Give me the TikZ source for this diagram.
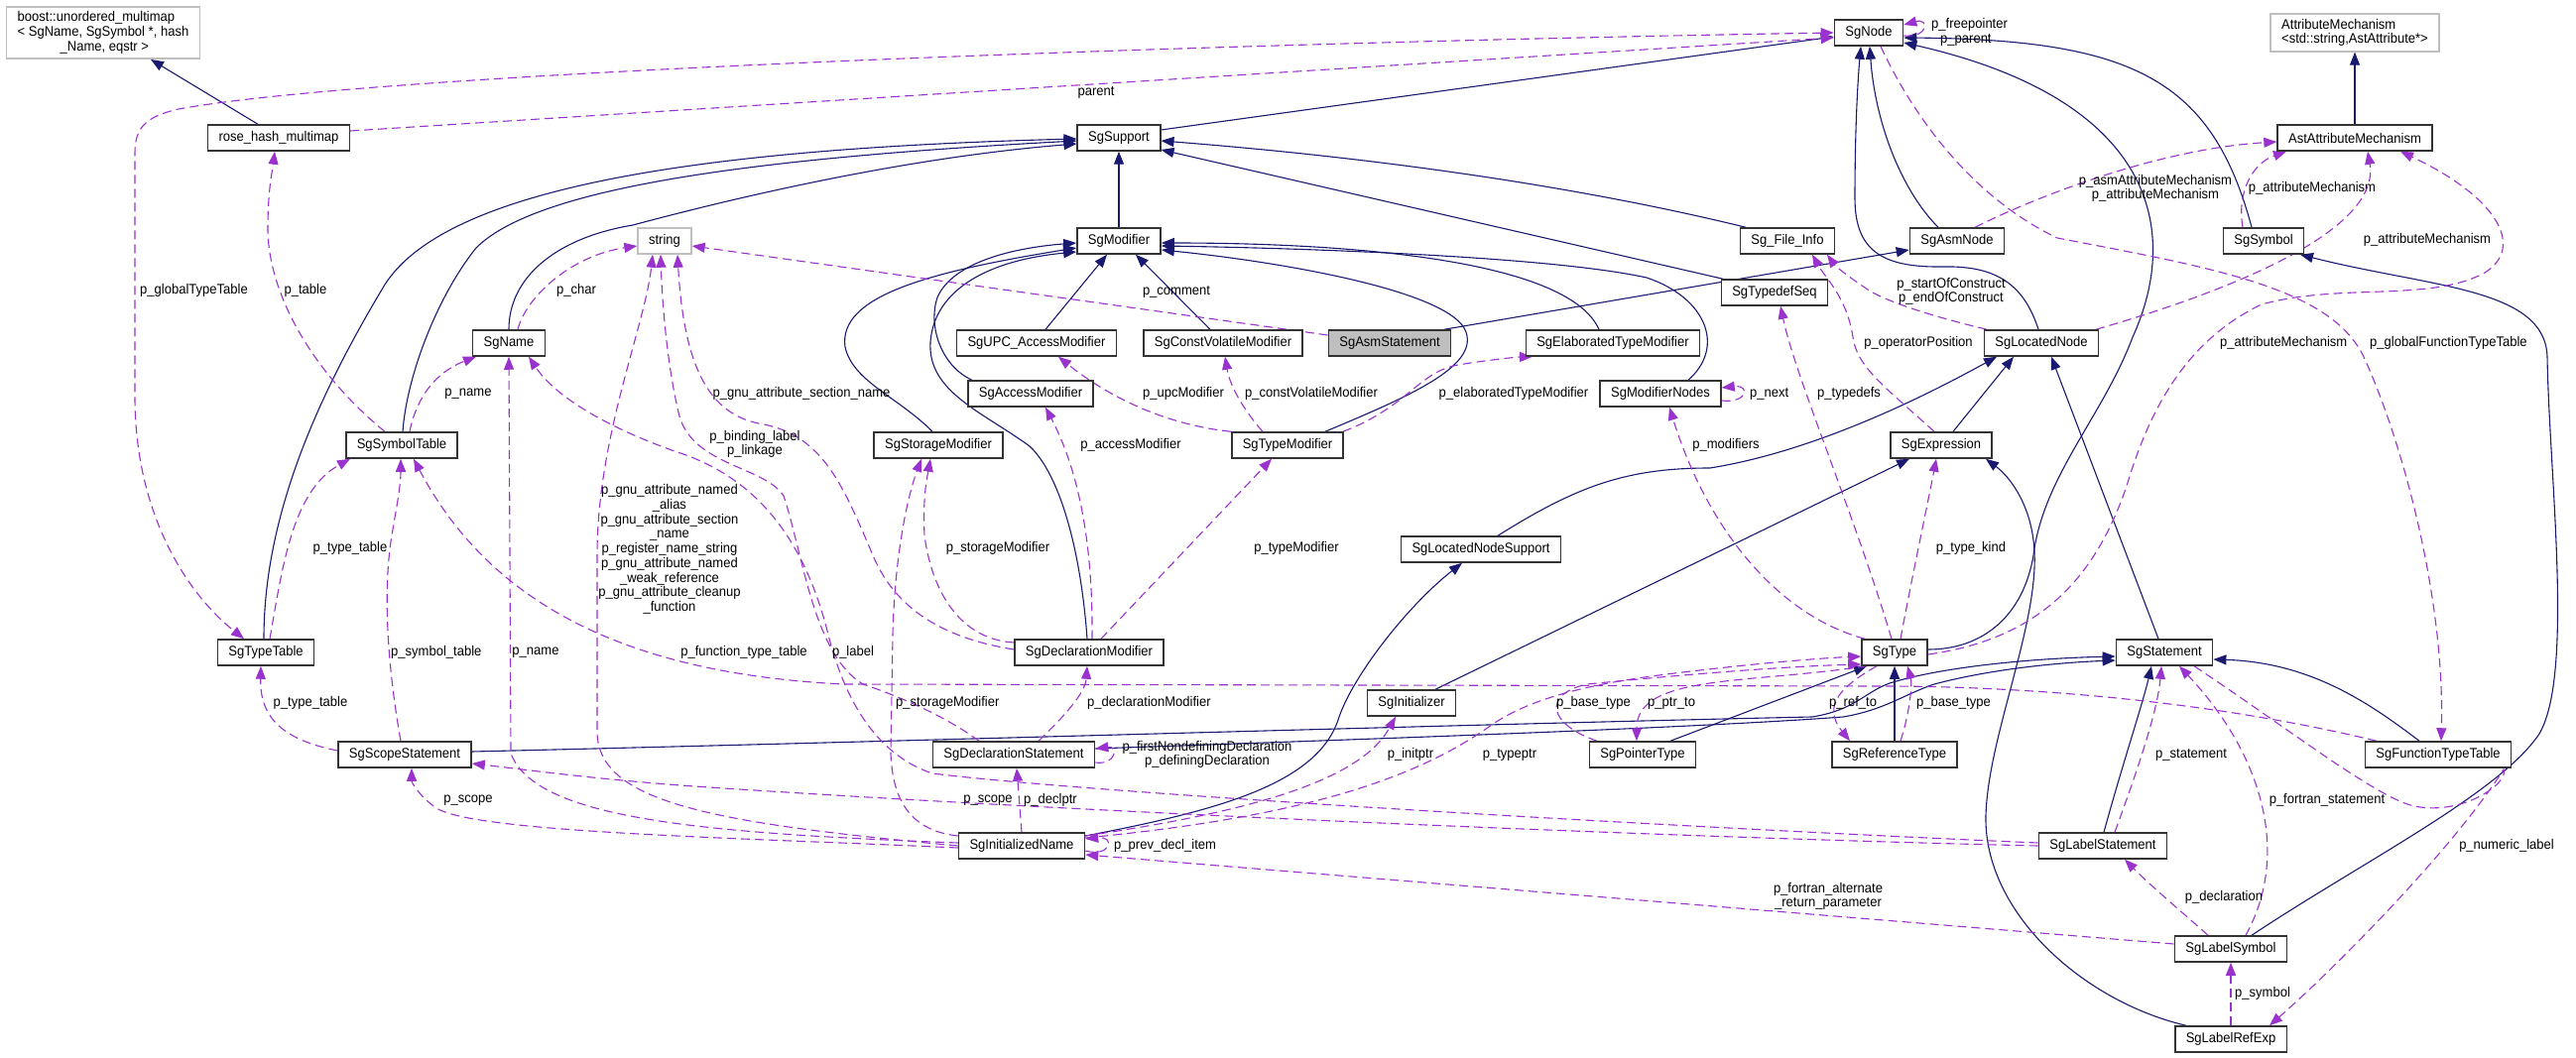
\documentclass[tikz,border=0pt]{standalone}
\usepackage{fontspec}
\setmainfont{Liberation Sans}[FakeStretch=0.93]
\usepackage{xcolor}
\usetikzlibrary{arrows.meta,backgrounds}
\definecolor{inhblue}{HTML}{191970}
\definecolor{usepurple}{HTML}{9A32CD}
\definecolor{extgray}{HTML}{BFBFBF}

\begin{document}
\begin{tikzpicture}[x=1pt, y=-1pt,
  every node/.style={font=\fontsize{14}{14.7}\selectfont},
  cls/.style={draw=black!80, line width=1.5pt, fill=white, minimum height=26pt, inner xsep=11pt, inner ysep=2pt},
  ext/.style={cls, draw=extgray},
  cur/.style={cls, fill=extgray},
  inh/.style={draw=inhblue, line width=1.1pt, -{Triangle[length=13pt,width=10pt]}},
  use/.style={draw=usepurple, line width=1.1pt, dash pattern=on 9pt off 5pt, -{Triangle[length=13pt,width=10pt]}},
  lab/.style={inner sep=0pt}]
\useasboundingbox (0,0) rectangle (2597,1067);

% classes
\node[ext, align=left, inner ysep=5pt] (boost) at (104,33) {boost::unordered\_multimap\\< SgName, SgSymbol *, hash\\\hspace*{43pt}\_Name, eqstr >};
\node[cls] (rose) at (281,139) {rose\_hash\_multimap};
\node[ext] (string) at (670,243) {string};
\node[cls] (name) at (513,346) {SgName};
\node[cls] (support) at (1128,139) {SgSupport};
\node[cls] (modifier) at (1128,243) {SgModifier};
\node[cls] (upc) at (1045,346) {SgUPC\_AccessModifier};
\node[cls] (cvm) at (1233,346) {SgConstVolatileModifier};
\node[cls] (sgnode) at (1884,33) {SgNode};
\node[cls] (fileinfo) at (1802,243) {Sg\_File\_Info};
\node[cls] (asmnode) at (1973,243) {SgAsmNode};
\node[cls] (typedefseq) at (1789,295) {SgTypedefSeq};
\node[cur] (asmstmt) at (1401,346) {SgAsmStatement};
\node[cls] (elabtm) at (1626,346) {SgElaboratedTypeModifier};
\node[ext, align=left, inner ysep=5pt] (attrmech) at (2374,33) {AttributeMechanism\\<std::string,AstAttribute*>};
\node[cls] (astattr) at (2374,139) {AstAttributeMechanism};
\node[cls] (sgsymbol) at (2282,243) {SgSymbol};
\node[cls] (locatednode) at (2058,346) {SgLocatedNode};
\node[cls] (symboltable) at (405,449) {SgSymbolTable};
\node[cls] (typetable) at (268,658) {SgTypeTable};
\node[cls] (accessmod) at (1039,397) {SgAccessModifier};
\node[cls] (storagemod) at (946,449) {SgStorageModifier};
\node[cls] (typemod) at (1298,449) {SgTypeModifier};
\node[cls] (declmod) at (1098,658) {SgDeclarationModifier};
\node[cls] (modnodes) at (1674,397) {SgModifierNodes};
\node[cls] (expression) at (1957,449) {SgExpression};
\node[cls] (lnsupport) at (1493,554) {SgLocatedNodeSupport};
\node[cls] (sgtype) at (1910,658) {SgType};
\node[cls] (statement) at (2182,658) {SgStatement};
\node[cls] (scopestmt) at (408,761) {SgScopeStatement};
\node[cls] (declstmt) at (1022,761) {SgDeclarationStatement};
\node[cls] (initname) at (1030,853) {SgInitializedName};
\node[cls] (initializer) at (1423,709) {SgInitializer};
\node[cls] (pointertype) at (1656,761) {SgPointerType};
\node[cls] (reftype) at (1910,761) {SgReferenceType};
\node[cls] (functt) at (2458,761) {SgFunctionTypeTable};
\node[cls] (labelstmt) at (2120,853) {SgLabelStatement};
\node[cls] (labelsym) at (2249,957) {SgLabelSymbol};
\node[cls] (labelrefexp) at (2249,1048) {SgLabelRefExp};

\begin{scope}[on background layer]
\fill[white] (0,0) rectangle (2597,1067);

% inheritance
\draw[inh] ([xshift=-21pt]rose.north) -- ([xshift=48pt]boost.south);
\draw[inh] ([yshift=8pt]support.east) -- ([yshift=-4pt]sgnode.west);
\draw[inh] (modifier) -- (support);
\draw[inh] ([xshift=-2pt]typetable.north) .. controls (266,520) and (320,400) .. (388,287) .. controls (450,190) and (700,150) .. ([yshift=-1pt]support.west);
\draw[inh] ([xshift=1pt]symboltable.north) .. controls (410,380) and (440,300) .. (480,250) .. controls (540,190) and (750,160) .. ([yshift=-3pt]support.west);
\draw[inh] (name.north) .. controls (513,280) and (560,240) .. (638,227) .. controls (720,205) and (900,160) .. ([yshift=-6pt]support.west);
\draw[inh] ([xshift=-42pt]fileinfo.north) .. controls (1600,190) and (1400,160) .. ([yshift=-3pt]support.east);
\draw[inh] ([xshift=-52pt]typedefseq.north) -- ([yshift=-12pt]support.east);
\draw[inh] ([xshift=9pt]upc.north) -- ([xshift=-12pt]modifier.south);
\draw[inh] ([xshift=-13pt]cvm.north) -- ([xshift=17pt]modifier.south);
\draw[inh] ([xshift=-59pt]accessmod.north) .. controls (950,370) and (935,330) .. (945,300) .. controls (960,265) and (1020,250) .. ([yshift=-2pt]modifier.west);
\draw[inh] ([xshift=-6pt]storagemod.north) .. controls (905,400) and (860,385) .. (852,350) .. controls (845,300) and (930,275) .. ([yshift=-7pt]modifier.west);
\draw[inh] ([xshift=-2pt]declmod.north) .. controls (1090,560) and (1070,480) .. (1038,450) .. controls (990,415) and (935,395) .. (938,345) .. controls (942,290) and (1000,262) .. ([yshift=-11pt]modifier.west);
\draw[inh] ([xshift=-14pt]elabtm.north) .. controls (1580,260) and (1350,245) .. ([yshift=-2pt]modifier.east);
\draw[inh] ([xshift=28pt]modnodes.north) .. controls (1740,350) and (1720,300) .. (1660,280) .. controls (1560,258) and (1300,250) .. ([yshift=-5pt]modifier.east);
\draw[inh] ([xshift=38pt]typemod.north) .. controls (1420,400) and (1490,370) .. (1478,335) .. controls (1465,295) and (1300,265) .. ([yshift=-9pt]modifier.east);
\draw[inh] ([xshift=-19pt]asmnode.north) .. controls (1915,190) and (1890,120) .. ([xshift=1pt]sgnode.south);
\draw[inh] ([xshift=-3pt]locatednode.north) .. controls (2040,285) and (2010,268) .. (1960,269) .. controls (1900,270) and (1870,255) .. (1870,200) .. controls (1870,130) and (1873,80) .. ([xshift=-8pt]sgnode.south);
\draw[inh] ([xshift=-12pt]sgsymbol.north) .. controls (2230,80) and (2150,40) .. ([yshift=-5pt]sgnode.east);
\draw[inh] ([yshift=3pt]sgtype.east) .. controls (2000,655) and (2040,620) .. (2050,560) .. controls (2060,480) and (2120,420) .. (2150,340) .. controls (2200,230) and (2170,100) .. ([yshift=-10pt]sgnode.east);
\draw[inh] (astattr) -- (attrmech);
\draw[inh] ([xshift=55pt]asmstmt.north) -- ([yshift=-9pt]asmnode.west);
\draw[inh] ([xshift=12pt]expression.north) -- ([xshift=-28pt]locatednode.south);
\draw[inh] ([xshift=17pt]lnsupport.north) .. controls (1590,490) and (1640,472) .. (1724,472) .. controls (1830,455) and (1940,400) .. ([xshift=-45pt]locatednode.south);
\draw[inh] ([xshift=-6pt]statement.north) -- ([xshift=10pt]locatednode.south);
\draw[inh] ([xshift=24pt]initializer.north) -- ([xshift=-32pt]expression.south);
\draw[inh] ([xshift=-45pt]labelrefexp.north) .. controls (2100,1010) and (2000,920) .. (2002,823) .. controls (2004,740) and (2060,620) .. (2050,545) .. controls (2045,505) and (2025,480) .. ([xshift=45pt]expression.south);
\draw[inh] ([xshift=21pt]labelsym.north) .. controls (2380,870) and (2520,800) .. (2560,740) .. controls (2595,680) and (2570,480) .. (2568,360) .. controls (2566,290) and (2450,290) .. ([xshift=37pt]sgsymbol.south);
\draw[inh] ([xshift=28pt]pointertype.north) -- ([xshift=-28pt]sgtype.south);
\draw[inh] (reftype) -- (sgtype);
\draw[inh] ([yshift=3pt]scopestmt.east) .. controls (900,748) and (1500,730) .. (1827,723) .. controls (1870,716) and (1880,698) .. (1905,689) .. controls (1960,672) and (2050,664) .. ([yshift=-4pt]statement.west);
\draw[inh] ([yshift=6pt]declstmt.east) .. controls (1300,748) and (1700,735) .. (1858,723) .. controls (1900,716) and (1920,700) .. (1950,690) .. controls (2010,674) and (2080,668) .. ([yshift=-8pt]statement.west);
\draw[inh] ([xshift=-19pt]functt.north) .. controls (2390,710) and (2330,668) .. ([yshift=-7pt]statement.east);
\draw[inh] ([xshift=1pt]labelstmt.north) .. controls (2140,770) and (2160,710) .. ([xshift=-13pt]statement.south);
\draw[inh] ([yshift=10pt]initname.east) .. controls (1230,817) and (1330,790) .. (1350,723) .. controls (1365,680) and (1420,610) .. ([xshift=-19pt]lnsupport.south);

% members
\draw[use, {Triangle[length=13pt,width=10pt]}-{Triangle[length=13pt,width=10pt]}] (sgnode.west) .. controls (1300,42) and (400,70) .. (180,110) .. controls (145,118) and (136,130) .. (136,155) -- (136,400) .. controls (136,520) and (190,600) .. ([xshift=-22pt]typetable.north);
\node[lab, anchor=west] at (141,293) {p\_globalTypeTable};
\draw[use] ([yshift=7pt]rose.east) -- ([yshift=-5pt]sgnode.west);
\node[lab] at (1105,93) {parent};
\draw[use] ([xshift=9pt]name.north) .. controls (530,300) and (575,258) .. ([yshift=-5pt]string.west);
\node[lab] at (581,293) {p\_char};
\draw[use] ([xshift=-17pt]symboltable.north) .. controls (320,380) and (270,300) .. (270,230) .. controls (270,190) and (275,170) .. ([xshift=-4pt]rose.south);
\node[lab] at (308,293) {p\_table};
\draw[use] ([xshift=8pt]symboltable.north) .. controls (420,400) and (440,375) .. ([xshift=-33pt]name.south);
\node[lab] at (472,397) {p\_name};
\draw[use] ([yshift=3pt]initname.west) .. controls (700,840) and (540,825) .. (515,760) -- (name.south);
\node[lab] at (540,658) {p\_name};
\draw[use] (initname.west) .. controls (720,830) and (605,810) .. (602,740) -- (602,560) .. controls (602,440) and (650,330) .. ([xshift=-12pt]string.south);
\node[lab, align=center] at (675,554) {p\_gnu\_attribute\_named\\\_alias\\p\_gnu\_attribute\_section\\\_name\\p\_register\_name\_string\\p\_gnu\_attribute\_named\\\_weak\_reference\\p\_gnu\_attribute\_cleanup\\\_function};
\draw[use] ([yshift=3pt]declmod.west) .. controls (960,645) and (905,620) .. (880,560) .. controls (850,490) and (830,440) .. (770,428) .. controls (720,420) and (690,380) .. ([xshift=13pt]string.south);
\node[lab] at (808,397) {p\_gnu\_attribute\_section\_name};
\draw[use] ([xshift=-35pt]declstmt.north) .. controls (950,720) and (900,700) .. (870,690) .. controls (820,660) and (810,560) .. (790,500) .. controls (770,470) and (700,470) .. (685,420) .. controls (675,380) and (668,320) .. ([xshift=-4pt]string.south);
\node[lab, align=center] at (761,448) {p\_binding\_label\\p\_linkage};
\draw[use] ([yshift=3pt]labelstmt.west) .. controls (1700,835) and (1100,800) .. (940,780) .. controls (880,760) and (850,700) .. (835,640) .. controls (810,540) and (760,480) .. (680,455) .. controls (610,430) and (560,400) .. ([xshift=20pt]name.south);
\node[lab] at (860,658) {p\_label};
\draw[use] ([yshift=8pt]asmstmt.west) -- ([yshift=-5pt]string.east);
\node[lab] at (1186,294) {p\_comment};
\draw[use] ([xshift=4pt]typetable.north) .. controls (285,570) and (295,495) .. ([xshift=-52pt]symboltable.south);
\node[lab] at (353,553) {p\_type\_table};
\draw[use] ([xshift=-4pt]scopestmt.north) .. controls (392,680) and (385,600) .. (395,540) .. controls (400,510) and (404,490) .. ([xshift=-1pt]symboltable.south);
\node[lab, anchor=west] at (394,658) {p\_symbol\_table};
\draw[use] ([yshift=4pt]scopestmt.west) .. controls (280,745) and (262,720) .. ([xshift=-5pt]typetable.south);
\node[lab] at (313,709) {p\_type\_table};
\draw[use] ([xshift=-62pt]functt.north) .. controls (2200,700) and (2000,692) .. (1900,692) -- (850,690) .. controls (650,680) and (500,620) .. ([xshift=12pt]symboltable.south);
\node[lab] at (750,658) {p\_function\_type\_table};
\draw[use] ([yshift=-2pt]initname.west) .. controls (750,845) and (480,840) .. (440,815) .. controls (425,805) and (415,790) .. ([xshift=7pt]scopestmt.south);
\node[lab] at (472,807) {p\_scope};
\draw[use] (labelstmt.west) .. controls (1700,845) and (1100,820) .. (700,793) .. controls (600,786) and (520,775) .. ([yshift=-9pt]scopestmt.east);
\node[lab] at (996,807) {p\_scope};
\draw[use] ([yshift=-5pt]initname.east) .. controls (1120,865) and (1125,843) .. ([yshift=7pt]initname.east);
\node[lab, anchor=west] at (1123,853) {p\_prev\_decl\_item};
\draw[use] (initname.north) -- ([xshift=3pt]declstmt.south);
\node[lab] at (1059,807) {p\_declptr};
\draw[use] ([yshift=-8pt]declstmt.east) .. controls (1125,772) and (1128,752) .. ([yshift=6pt]declstmt.east);
\node[lab, align=center] at (1217,761) {p\_firstNondefiningDeclaration\\p\_definingDeclaration};
\draw[use] ([xshift=25pt]declstmt.north) .. controls (1070,725) and (1094,700) .. ([xshift=-2pt]declmod.south);
\node[lab, anchor=west] at (1096,709) {p\_declarationModifier};
\draw[use] ([yshift=10pt]initname.west) .. controls (920,838) and (900,810) .. (898,760) -- (900,640) .. controls (902,560) and (915,500) .. ([xshift=-17pt]storagemod.south);
\node[lab, anchor=west] at (903,709) {p\_storageModifier};
\draw[use] ([yshift=10pt]declmod.west) .. controls (970,645) and (940,600) .. (932,540) .. controls (930,500) and (935,480) .. ([xshift=-8pt]storagemod.south);
\node[lab] at (1006,553) {p\_storageModifier};
\draw[use] ([xshift=3pt]declmod.north) .. controls (1102,540) and (1085,470) .. ([xshift=15pt]accessmod.south);
\node[lab] at (1140,449) {p\_accessModifier};
\draw[use] ([xshift=12pt]declmod.north) -- ([xshift=-16pt]typemod.south);
\node[lab] at (1307,553) {p\_typeModifier};
\draw[use] ([xshift=-57pt]typemod.north) .. controls (1190,430) and (1130,410) .. ([xshift=22pt]upc.south);
\node[lab] at (1193,397) {p\_upcModifier};
\draw[use] ([xshift=-25pt]typemod.north) .. controls (1255,415) and (1240,390) .. ([xshift=2pt]cvm.south);
\node[lab] at (1322,397) {p\_constVolatileModifier};
\draw[use] ([xshift=56pt]typemod.north) .. controls (1420,410) and (1430,375) .. (1470,368) .. controls (1500,363) and (1530,360) .. ([xshift=-81pt]elabtm.south);
\node[lab] at (1526,397) {p\_elaboratedTypeModifier};
\draw[use] ([yshift=-7pt]modnodes.east) .. controls (1762,407) and (1765,388) .. ([yshift=6pt]modnodes.east);
\node[lab, anchor=west] at (1764,397) {p\_next};
\draw[use] ([xshift=-30pt]sgtype.north) .. controls (1790,620) and (1720,530) .. ([xshift=9pt]modnodes.south);
\node[lab] at (1740,449) {p\_modifiers};
\draw[use] ([xshift=-3pt]sgtype.north) .. controls (1870,520) and (1810,380) .. ([xshift=6pt]typedefseq.south);
\node[lab, anchor=west] at (1832,397) {p\_typedefs};
\draw[use] ([xshift=6pt]sgtype.north) .. controls (1928,580) and (1945,500) .. ([xshift=-5pt]expression.south);
\node[lab] at (1987,553) {p\_type\_kind};
\draw[use] ([xshift=-7pt]expression.north) .. controls (1900,390) and (1872,370) .. (1868,340) .. controls (1862,300) and (1840,280) .. ([xshift=25pt]fileinfo.south);
\node[lab] at (1934,346) {p\_operatorPosition};
\draw[use] ([xshift=-55pt]locatednode.north) .. controls (1960,322) and (1900,305) .. (1880,290) .. controls (1862,278) and (1850,268) .. ([xshift=40pt]fileinfo.south);
\node[lab, align=center] at (1967,294) {p\_startOfConstruct\\p\_endOfConstruct};
\draw[use] ([xshift=18pt]asmnode.north) .. controls (2060,195) and (2180,150) .. ([yshift=-4pt]astattr.west);
\node[lab, align=center] at (2173,190) {p\_asmAttributeMechanism\\p\_attributeMechanism};
\draw[use] ([xshift=-21pt]sgsymbol.north) .. controls (2255,195) and (2270,165) .. ([xshift=-69pt]astattr.south);
\node[lab] at (2331,190) {p\_attributeMechanism};
\draw[use] ([xshift=55pt]locatednode.north) .. controls (2260,290) and (2400,230) .. ([xshift=13pt]astattr.south);
\node[lab] at (2447,242) {p\_attributeMechanism};
\draw[use] ([yshift=-2pt]sgtype.east) .. controls (2050,645) and (2110,590) .. (2144,490) .. controls (2165,420) and (2200,345) .. (2280,307) .. controls (2360,285) and (2450,305) .. (2505,275) .. controls (2545,250) and (2520,200) .. ([xshift=46pt]astattr.south);
\node[lab, anchor=west] at (2238,346) {p\_attributeMechanism};
\draw[use] ([xshift=12pt]sgnode.south) .. controls (1930,120) and (1990,200) .. (2074,240) .. controls (2230,270) and (2350,290) .. (2383,360) .. controls (2420,440) and (2465,600) .. ([xshift=3pt]functt.north);
\node[lab, anchor=west] at (2389,346) {p\_globalFunctionTypeTable};
\draw[use] ([yshift=-3pt]sgnode.east) .. controls (1945,38) and (1945,18) .. ([yshift=8pt]sgnode.east);
\node[lab, anchor=west] at (1947,25) {p\_freepointer};
\node[lab, anchor=west] at (1956,40) {p\_parent};
\draw[use] ([yshift=10pt]initname.east) .. controls (1250,820) and (1370,790) .. ([xshift=-16pt]initializer.south);
\node[lab] at (1422,761) {p\_initptr};
\draw[use] ([yshift=8pt]initname.east) .. controls (1300,825) and (1420,790) .. (1501,733) .. controls (1540,705) and (1600,690) .. (1680,680) .. controls (1760,670) and (1830,664) .. ([yshift=-4pt]sgtype.west);
\node[lab] at (1522,761) {p\_typeptr};
\draw[use] ([xshift=-46pt]pointertype.north) .. controls (1560,730) and (1555,700) .. (1600,690) .. controls (1700,680) and (1800,672) .. ([yshift=-12pt]sgtype.west);
\node[lab, anchor=west] at (1569,709) {p\_base\_type};
\draw[use] ([xshift=-28pt]sgtype.south) .. controls (1760,690) and (1650,680) .. ([xshift=-6pt]pointertype.north);
\node[lab, anchor=west] at (1661,709) {p\_ptr\_to};
\draw[use] ([xshift=-18pt]sgtype.south) .. controls (1860,690) and (1835,710) .. ([xshift=-45pt]reftype.north);
\node[lab, anchor=west] at (1844,709) {p\_ref\_to};
\draw[use] ([xshift=6pt]reftype.north) .. controls (1925,720) and (1928,690) .. ([xshift=13pt]sgtype.south);
\node[lab, anchor=west] at (1932,709) {p\_base\_type};
\draw[use] ([xshift=12pt]labelstmt.north) .. controls (2150,790) and (2175,720) .. ([xshift=-3pt]statement.south);
\node[lab, anchor=west] at (2173,761) {p\_statement};
\draw[use] ([xshift=15pt]labelsym.north) .. controls (2310,860) and (2280,760) .. ([xshift=15pt]statement.south);
\node[lab] at (2346,807) {p\_fortran\_statement};
\draw[use] ([xshift=30pt]statement.south) .. controls (2300,730) and (2390,800) .. (2430,812) .. controls (2480,825) and (2530,790) .. (2524,776) .. controls (2470,860) and (2350,980) .. ([xshift=39pt]labelrefexp.north);
\node[lab] at (2527,853) {p\_numeric\_label};
\draw[use] ([xshift=-23pt]labelsym.north) .. controls (2200,920) and (2170,895) .. ([xshift=22pt]labelstmt.south);
\node[lab] at (2242,905) {p\_declaration};
\draw[use] (labelrefexp) -- (labelsym);
\node[lab, anchor=west] at (2253,1002) {p\_symbol};
\draw[use] ([yshift=5pt]labelsym.west) -- ([yshift=-9pt]initname.east);
\node[lab, align=center] at (1843,904) {p\_fortran\_alternate\\\_return\_parameter};
\end{scope}
\end{tikzpicture}
\end{document}
